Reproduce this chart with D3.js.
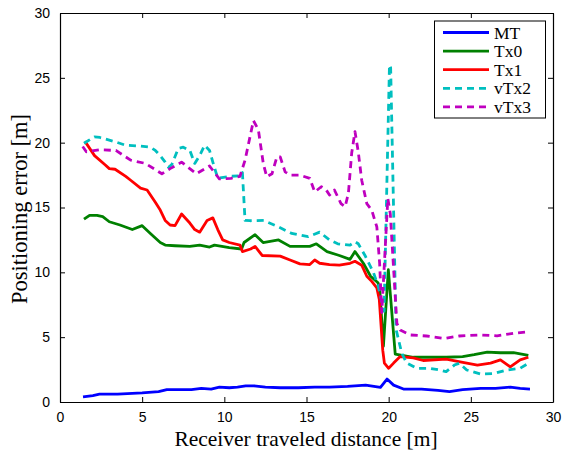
<!DOCTYPE html>
<html>
<head>
<meta charset="utf-8">
<script src="https://cdn.jsdelivr.net/npm/d3@7"></script>
<style>
  body { margin: 0; background: #fff; }
  svg { display: block; }
</style>
</head>
<body>
<script>
// values
const xTicks = [0, 5, 10, 15, 20, 25, 30];
const yTicks = [0, 5, 10, 15, 20, 25, 30];

const mtX = [1.4,2.0,2.4,3.5,5.0,6.0,6.5,7.0,8.0,8.6,9.2,9.7,10.3,10.8,11.3,11.8,12.5,13.4,14.5,15.5,16.4,17.5,18.6,19.5,19.9,20.3,20.9,22.0,23.0,23.7,24.5,25.6,26.5,27.4,28.0,28.6];
const mtY = [0.4,0.5,0.6,0.6,0.7,0.8,0.95,0.95,0.95,1.05,1.0,1.15,1.1,1.15,1.25,1.25,1.15,1.1,1.1,1.15,1.15,1.2,1.3,1.13,1.77,1.3,1.0,1.0,0.9,0.8,0.95,1.05,1.05,1.15,1.05,1.0];

const tx0X = [1.46,1.8,2.25,2.6,3.0,3.65,4.4,5.0,5.5,6.1,6.4,7.0,7.9,8.5,9.1,9.4,10.3,11.05,11.2,11.87,12.36,13.3,14.0,15.2,15.6,16.25,17.0,17.65,17.95,18.46,18.9,19.35,19.45,19.68,19.98,20.4,21.5,22.5,23.5,24.5,25.2,26.0,26.8,27.6,28.5];
const tx0Y = [14.1,14.4,14.4,14.3,13.9,13.65,13.3,13.6,13.0,12.3,12.1,12.05,12.0,12.1,11.95,12.1,11.9,11.8,12.3,12.9,12.3,12.5,12.0,12.0,12.2,11.6,11.3,11.0,11.6,10.7,9.7,9.2,8.8,4.3,10.2,3.7,3.45,3.45,3.45,3.5,3.65,3.85,3.8,3.8,3.6];

const tx1X = [1.52,2.1,2.74,3.0,3.35,4.0,4.3,4.9,5.3,5.8,6.1,6.4,6.7,7.0,7.4,7.9,8.2,8.5,8.95,9.3,9.6,9.9,10.3,10.95,11.1,11.6,11.87,12.3,13.4,14.0,14.6,15.2,15.5,15.8,16.4,17.0,17.65,17.95,18.36,18.67,18.97,19.28,19.43,19.64,19.74,20.0,20.3,20.7,21.5,22.1,23.5,24.35,25.4,26.2,26.8,27.4,28.0,28.5];
const tx1Y = [20.1,19.0,18.3,18.0,17.95,17.4,17.1,16.5,16.35,15.4,14.8,14.0,13.65,13.6,14.5,13.8,13.3,13.1,14.0,14.2,13.3,12.5,12.3,12.1,11.6,11.8,12.0,11.3,11.25,10.95,10.65,10.6,10.95,10.7,10.6,10.55,10.7,10.85,10.55,9.7,9.3,8.8,7.9,4.0,3.0,2.6,3.0,3.5,3.4,3.2,3.3,3.1,2.85,3.0,3.25,2.7,3.25,3.45];

const vtx2X = [1.46,2.1,2.43,3.35,4.0,4.9,5.5,5.8,6.1,6.4,6.6,6.8,7.2,7.5,7.9,8.2,8.5,8.8,9.1,9.3,9.6,10.35,10.95,11.1,11.26,11.56,12.4,13.3,14.1,15.1,15.8,16.4,16.9,17.65,17.95,18.15,18.56,19.07,19.37,19.72,20.05,20.12,20.45,20.8,21.1,21.7,22.5,23.1,23.5,24.0,24.3,24.75,25.6,26.4,27.2,28.0,28.5];
const vtx2Y = [19.95,20.45,20.4,20.07,19.8,19.73,19.65,19.4,19.0,18.5,18.1,18.3,19.56,19.65,19.4,18.4,19.0,19.8,19.4,18.5,17.25,17.4,17.45,17.7,14.0,13.98,14.0,13.5,13.0,12.75,13.1,12.5,12.2,12.1,12.36,12.2,11.3,10.0,8.9,7.0,26.0,25.8,5.6,3.75,3.0,2.6,2.6,2.47,2.34,2.85,2.98,2.47,2.16,2.2,2.47,2.6,2.98];

const vtx3X = [1.38,1.6,2.4,3.4,4.3,5.2,6.2,6.7,7.4,8.3,9.1,9.7,10.4,10.95,11.26,11.77,12.07,12.37,12.58,12.9,13.2,13.4,13.7,14.0,14.6,15.2,15.5,15.9,16.2,16.4,16.7,17.1,17.35,17.55,17.75,17.95,18.15,18.36,18.67,18.97,19.28,19.45,19.58,19.95,20.1,20.5,20.7,21.3,22.3,23.4,24.3,25.6,26.6,27.6,28.5];
const vtx3Y = [19.7,19.3,19.45,19.4,18.65,18.4,17.6,18.0,18.5,17.6,18.2,17.2,17.25,17.4,18.65,21.7,21.0,18.4,17.37,17.6,18.9,18.9,17.75,17.5,17.5,17.25,16.2,16.6,16.35,15.96,16.35,15.3,15.06,16.1,19.2,20.85,19.3,17.1,15.3,14.8,13.5,10.7,6.9,15.7,14.5,6.07,5.55,5.17,5.09,4.9,5.09,5.17,5.1,5.3,5.42];

const seriesNames = ["MT", "Tx0", "Tx1", "vTx2", "vTx3"];
const seriesColors = ["#0000ff", "#008000", "#ff0000", "#00bfbf", "#bf00bf"];
const seriesDash = [null, null, null, "7,5", "7,5"];
const seriesX = [mtX, tx0X, tx1X, vtx2X, vtx3X];
const seriesY = [mtY, tx0Y, tx1Y, vtx2Y, vtx3Y];

const width = 570, height = 451;
const plotL = 60, plotR = 553, plotT = 13, plotB = 402;

const svg = d3.select("body").append("svg")
    .attr("width", width)
    .attr("height", height);

const xScale = d3.scaleLinear().domain([0, 30]).range([plotL, plotR]);
const yScale = d3.scaleLinear().domain([0, 30]).range([plotB, plotT]);

// lines
const line = d3.line()
    .x(d => xScale(d[0]))
    .y(d => yScale(d[1]));

seriesNames.forEach((name, i) => {
    const pts = seriesX[i].map((x, j) => [x, seriesY[i][j]]);
    svg.append("path")
        .datum(pts)
        .attr("fill", "none")
        .attr("stroke", seriesColors[i])
        .attr("stroke-width", 2.8)
        .attr("stroke-linejoin", "round")
        .attr("stroke-dasharray", seriesDash[i])
        .attr("d", line);
});

// axes, ticks pointing inward on all four sides
const tickFont = "Liberation Sans, Arial, sans-serif";

const xAxis = d3.axisBottom(xScale).tickValues(xTicks).tickSizeInner(-5).tickSizeOuter(0).tickPadding(10);
const gx = svg.append("g").attr("transform", "translate(0," + plotB + ")").call(xAxis);

const yAxis = d3.axisLeft(yScale).tickValues(yTicks).tickSizeInner(-5).tickSizeOuter(0).tickPadding(10);
const gy = svg.append("g").attr("transform", "translate(" + plotL + ",0)").call(yAxis);

const xTop = d3.axisTop(xScale).tickValues(xTicks).tickSizeInner(-5).tickSizeOuter(0).tickFormat("");
svg.append("g").attr("transform", "translate(0," + plotT + ")").call(xTop);

const yRight = d3.axisRight(yScale).tickValues(yTicks).tickSizeInner(-5).tickSizeOuter(0).tickFormat("");
svg.append("g").attr("transform", "translate(" + plotR + ",0)").call(yRight);

svg.selectAll(".domain").attr("stroke", "#000").attr("stroke-width", 1.2);
svg.selectAll(".tick line").attr("stroke", "#000");
svg.selectAll(".tick text")
    .attr("font-family", tickFont)
    .attr("font-size", 14)
    .attr("fill", "#000");

// axis titles
svg.append("text")
    .attr("x", 306)
    .attr("y", 446)
    .attr("text-anchor", "middle")
    .attr("font-family", "Liberation Serif, Times New Roman, serif")
    .attr("font-size", 21.5)
    .text("Receiver traveled distance [m]");

svg.append("text")
    .attr("transform", "translate(27,209) rotate(-90)")
    .attr("text-anchor", "middle")
    .attr("font-family", "Liberation Serif, Times New Roman, serif")
    .attr("font-size", 22.5)
    .text("Positioning error [m]");

// legend
const legend = svg.append("g");
legend.append("rect")
    .attr("x", 434.5)
    .attr("y", 21)
    .attr("width", 111)
    .attr("height", 97)
    .attr("fill", "#fff")
    .attr("stroke", "#000")
    .attr("stroke-width", 1);

seriesNames.forEach((name, i) => {
    const yy = 32.5 + i * 18.6;
    legend.append("line")
        .attr("x1", 443).attr("x2", 489)
        .attr("y1", yy).attr("y2", yy)
        .attr("stroke", seriesColors[i])
        .attr("stroke-width", 2.8)
        .attr("stroke-dasharray", seriesDash[i]);
    legend.append("text")
        .attr("x", 494)
        .attr("y", yy + 6)
        .attr("font-family", "Liberation Serif, Times New Roman, serif")
        .attr("font-size", 17.5)
        .text(name);
});
</script>
</body>
</html>
